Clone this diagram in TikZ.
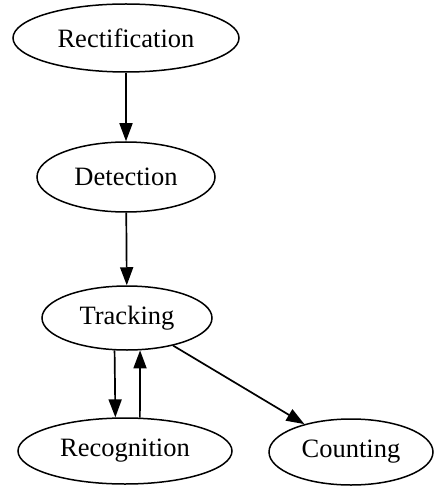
\documentclass[tikz,border=0pt]{standalone}
\usepackage{fontspec}
\setmainfont{Liberation Serif}
\usetikzlibrary{shapes.geometric,arrows.meta}
\begin{document}
\begin{tikzpicture}[x=1pt,y=-1pt,
  box/.style={ellipse,draw,line width=1.5pt,inner sep=0pt,font=\fontsize{26.5}{26.5}\selectfont},
  arr/.style={line width=1.7pt,-{Triangle[length=18pt,width=13pt]}}]
\useasboundingbox (0,0) rectangle (436,486);
\node[box,minimum width=226pt,minimum height=68pt] (rect) at (126,38) {Rectification};
\node[box,minimum width=178pt,minimum height=70pt] (det) at (126,177) {Detection};
\node[box,minimum width=170pt,minimum height=64pt] (trk) at (127,318) {Tracking};
\node[box,minimum width=214pt,minimum height=66pt] (rec) at (125,451) {Recognition};
\node[box,minimum width=164pt,minimum height=66pt] (cnt) at (351,452) {Counting};
\draw[arr] (rect) -- (det);
\draw[arr] (det) -- (trk);
\draw[arr] (trk.249) -- (rec.106);
\draw[arr] (rec.66) -- (trk.292);
\draw[arr] (trk) -- (cnt);
\end{tikzpicture}
\end{document}
